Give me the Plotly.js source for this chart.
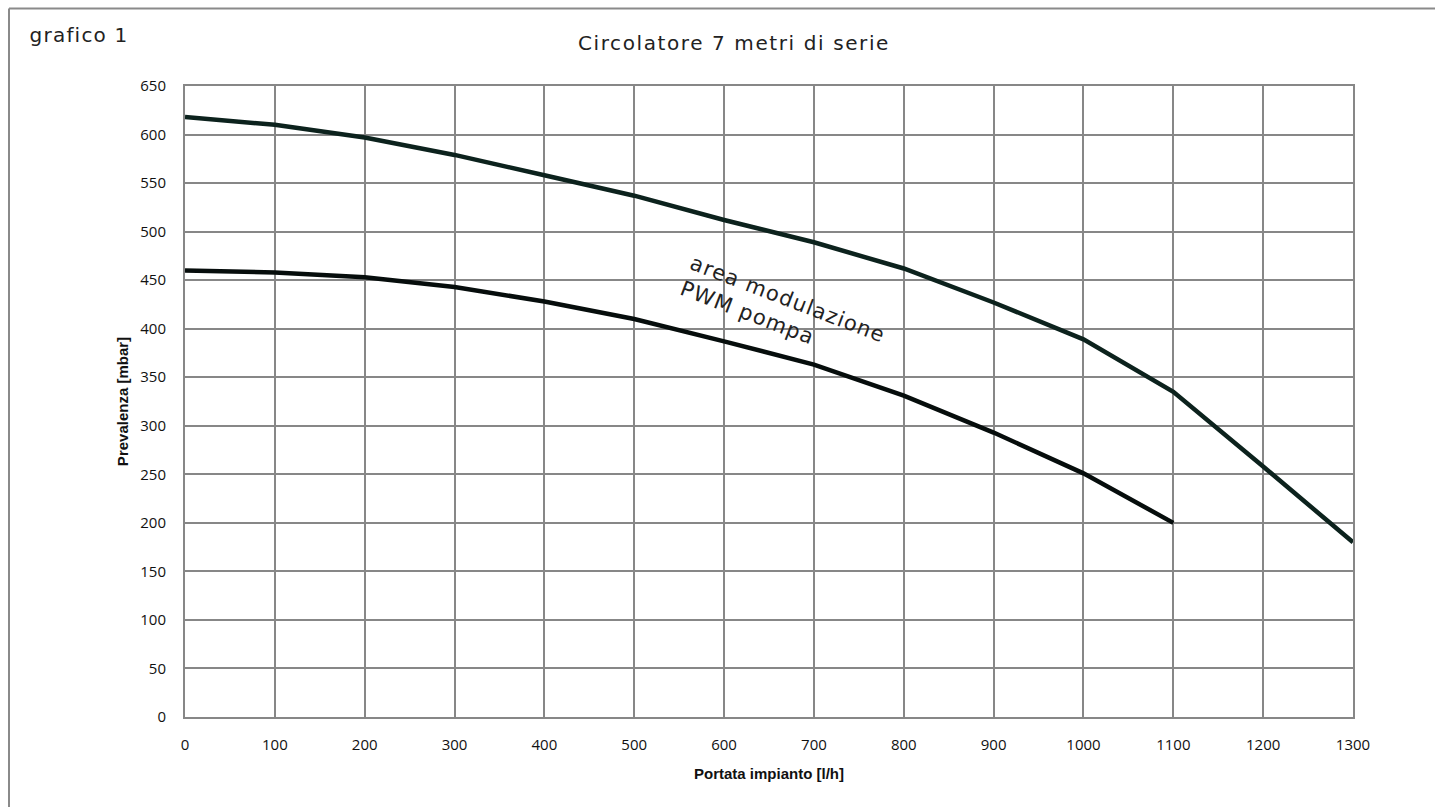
<!DOCTYPE html>
<html>
<head>
<meta charset="utf-8">
<script src="https://cdn.plot.ly/plotly-3.0.1.min.js"></script>
<style>
html,body{margin:0;padding:0;background:#fff;}
#chart{width:1435px;height:807px;}
#chart .gtitle{letter-spacing:1.6px;}
#chart .annotation-text{letter-spacing:1.2px;}
</style>
</head>
<body>
<div id="chart"></div>
<script>
const portata = [0, 100, 200, 300, 400, 500, 600, 700, 800, 900, 1000, 1100, 1200, 1300];
const prevalenzaMax = [618, 610, 597, 579, 558, 537, 512, 489, 462, 427, 389, 335, 258, 180];
const portataMin = [0, 100, 200, 300, 400, 500, 600, 700, 800, 900, 1000, 1100];
const prevalenzaMin = [460, 458, 453, 443, 428, 410, 387, 363, 331, 293, 251, 200];
const xTicks = [0, 100, 200, 300, 400, 500, 600, 700, 800, 900, 1000, 1100, 1200, 1300];
const yTicks = [0, 50, 100, 150, 200, 250, 300, 350, 400, 450, 500, 550, 600, 650];

const traces = [
  {x: portata, y: prevalenzaMax, mode: 'lines', line: {color: '#0c221d', width: 4.5}, hoverinfo: 'skip'},
  {x: portataMin, y: prevalenzaMin, mode: 'lines', line: {color: '#060d0c', width: 4.5}, hoverinfo: 'skip'}
];

const gridCol = '#878787';
const layout = {
  width: 1435, height: 807,
  margin: {l: 185, r: 82, t: 86, b: 90},
  paper_bgcolor: '#fff', plot_bgcolor: '#fff',
  showlegend: false,
  font: {family: 'Open Sans, sans-serif', color: '#1a1a1a'},
  title: {text: 'Circolatore 7 metri di serie', x: (734 - 185) / 1168, xref: 'paper', xanchor: 'center',
          y: 1 - 43 / 807, yref: 'container', yanchor: 'middle',
          font: {family: 'DejaVu Sans', size: 20, color: '#222'}},
  xaxis: {
    range: [0, 1300], tickvals: xTicks, ticktext: xTicks.map(String),
    showgrid: true, gridcolor: gridCol, gridwidth: 2,
    showline: true, linecolor: gridCol, linewidth: 2, mirror: true,
    zeroline: false, ticks: '', ticklabelstandoff: 13,
    tickfont: {family: 'Open Sans', size: 15, color: '#111'},
    title: {text: '<b>Portata impianto [l/h]</b>', standoff: 15, font: {family: 'Liberation Sans Narrow, Liberation Sans', size: 15, color: '#111'}}
  },
  yaxis: {
    range: [0, 650], tickvals: yTicks, ticktext: yTicks.map(String),
    showgrid: true, gridcolor: gridCol, gridwidth: 2,
    showline: true, linecolor: gridCol, linewidth: 2, mirror: true,
    zeroline: false, ticks: '', ticklabelstandoff: 14,
    tickfont: {family: 'Open Sans', size: 15, color: '#111'},
    title: {text: '<b>Prevalenza [mbar]</b>', standoff: 8, font: {family: 'Liberation Sans Narrow, Liberation Sans', size: 15, color: '#111'}}
  },
  annotations: [
    {text: 'grafico 1', xref: 'paper', yref: 'paper', x: (33 - 185) / 1168, y: (717 - 35) / 631,
     xanchor: 'left', yanchor: 'middle', showarrow: false,
     font: {family: 'DejaVu Sans', size: 20, color: '#222'}},
    {text: 'area modulazione<br>PWM pompa', x: 656, y: 421, showarrow: false, textangle: 21,
     align: 'left', font: {family: 'DejaVu Sans', size: 21, color: '#222'}}
  ],
  shapes: [
    {type: 'line', xref: 'paper', yref: 'paper', x0: (9 - 185) / 1168, x1: 1.2, y0: (717 - 8.5) / 631, y1: (717 - 8.5) / 631,
     line: {color: '#8a8a8a', width: 2}},
    {type: 'line', xref: 'paper', yref: 'paper', x0: (9 - 185) / 1168, x1: (9 - 185) / 1168, y0: (717 - 8.5) / 631, y1: -0.3,
     line: {color: '#8a8a8a', width: 2}}
  ]
};

Plotly.newPlot('chart', traces, layout, {displayModeBar: false, staticPlot: true});
</script>
</body>
</html>
